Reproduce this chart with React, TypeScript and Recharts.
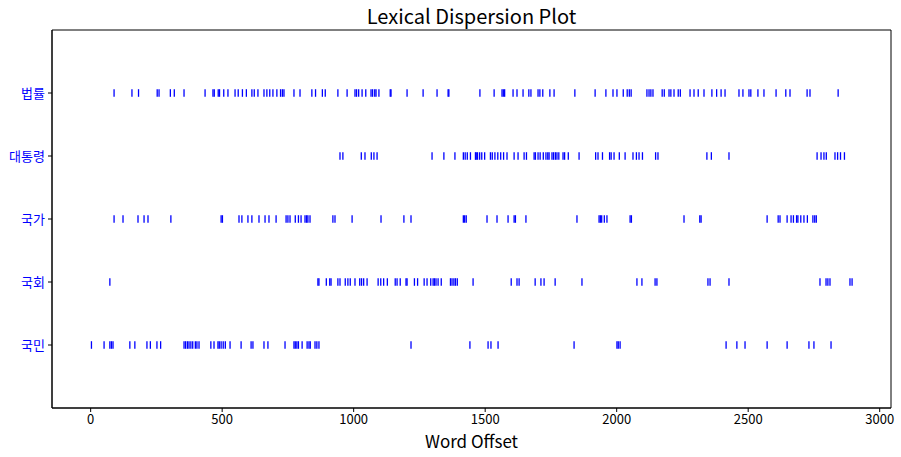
import React from 'react';
import { ScatterChart, Scatter, XAxis, YAxis, ReferenceArea } from 'recharts';

const words = ['국민', '국회', '국가', '대통령', '법률'];

const offsetsGukmin = [3, 51, 73, 79, 85, 149, 168, 214, 227, 252, 266, 355, 361, 368, 374, 381, 388, 398, 404, 412, 457, 469, 484, 489, 496, 504, 512, 530, 572, 610, 617, 659, 674, 739, 773, 778, 784, 790, 804, 823, 830, 835, 853, 860, 868, 1218, 1442, 1511, 1522, 1549, 1838, 2001, 2006, 2013, 2416, 2457, 2488, 2572, 2648, 2731, 2750, 2815];

const offsetsGukhoe = [73, 864, 868, 896, 909, 914, 940, 948, 968, 978, 987, 1005, 1023, 1030, 1038, 1051, 1093, 1103, 1114, 1128, 1158, 1165, 1177, 1199, 1203, 1231, 1243, 1268, 1279, 1293, 1302, 1307, 1313, 1321, 1333, 1368, 1374, 1381, 1387, 1394, 1454, 1599, 1621, 1629, 1690, 1712, 1724, 1766, 1868, 2077, 2096, 2146, 2153, 2347, 2355, 2427, 2773, 2796, 2803, 2811, 2887, 2895];

const offsetsGukga = [89, 123, 180, 203, 218, 305, 496, 501, 564, 575, 598, 613, 640, 663, 678, 705, 743, 750, 758, 778, 790, 800, 815, 821, 826, 834, 921, 929, 994, 1104, 1191, 1218, 1417, 1422, 1428, 1507, 1545, 1587, 1610, 1615, 1655, 1849, 1933, 1938, 1943, 1953, 1963, 2051, 2056, 2256, 2316, 2321, 2572, 2614, 2621, 2648, 2663, 2672, 2684, 2689, 2700, 2712, 2725, 2746, 2753, 2759];

const offsetsDaetongryeong = [948, 959, 1029, 1043, 1067, 1077, 1089, 1298, 1343, 1385, 1417, 1424, 1432, 1444, 1463, 1466, 1471, 1479, 1487, 1498, 1520, 1527, 1537, 1548, 1559, 1570, 1583, 1610, 1625, 1648, 1657, 1686, 1691, 1701, 1709, 1721, 1731, 1738, 1743, 1754, 1760, 1767, 1773, 1780, 1796, 1802, 1816, 1857, 1920, 1929, 1946, 1973, 1979, 1990, 2010, 2032, 2062, 2075, 2085, 2098, 2148, 2157, 2343, 2360, 2427, 2762, 2777, 2788, 2797, 2830, 2840, 2851, 2866];

const offsetsBeopryul = [89, 157, 182, 253, 260, 303, 318, 355, 435, 465, 470, 485, 490, 506, 522, 549, 561, 577, 592, 613, 622, 636, 659, 670, 681, 693, 708, 722, 729, 735, 773, 796, 841, 855, 881, 892, 940, 975, 1005, 1011, 1019, 1032, 1046, 1066, 1072, 1080, 1085, 1096, 1139, 1142, 1203, 1264, 1317, 1359, 1362, 1480, 1534, 1564, 1569, 1574, 1606, 1621, 1644, 1666, 1674, 1701, 1708, 1719, 1746, 1762, 1841, 1918, 1959, 1986, 2001, 2025, 2040, 2048, 2055, 2115, 2123, 2130, 2138, 2173, 2181, 2199, 2206, 2218, 2234, 2242, 2279, 2294, 2310, 2332, 2362, 2380, 2397, 2412, 2465, 2480, 2503, 2510, 2537, 2560, 2606, 2643, 2659, 2724, 2735, 2842];

const xTicks = [0, 500, 1000, 1500, 2000, 2500, 3000];
const yTicks = [0, 1, 2, 3, 4];
const xDomain = [-147, 3043];
const yDomain = [-1, 5];

const allOffsets = [offsetsGukmin, offsetsGukhoe, offsetsGukga, offsetsDaetongryeong, offsetsBeopryul];

const FONT = '"Noto Sans CJK KR", "Noto Sans", sans-serif';

const TickMark = (props: any) => {
  const { cx, cy } = props;
  if (cx == null || cy == null) return null;
  return <line x1={cx} x2={cx} y1={cy - 3.8} y2={cy + 3.8} stroke="#0000ff" strokeWidth={1.3} />;
};

const YTick = (props: any) => {
  const { x, y, payload } = props;
  return (
    <text x={x} y={y} dy={5} textAnchor="end" fill="#0000ff" fontSize={13} fontFamily={FONT}>
      {words[payload.value]}
    </text>
  );
};

export default function App() {
  return (
    <div style={{ position: 'absolute', left: 0, top: 0, width: 901, height: 457, background: '#fff' }}>
      <div
        style={{
          position: 'absolute',
          left: 52,
          width: 839,
          top: 3,
          textAlign: 'center',
          fontFamily: FONT,
          fontSize: 20,
          color: '#000',
          lineHeight: '26px',
        }}
      >
        Lexical Dispersion Plot
      </div>
      <ScatterChart width={901} height={457} margin={{ top: 30, right: 10, bottom: 0, left: 0 }}>
        <XAxis
          type="number"
          dataKey="x"
          domain={xDomain}
          ticks={xTicks}
          allowDataOverflow
          height={49}
          tickSize={4}
          tickMargin={3}
          axisLine={{ stroke: '#000' }}
          tickLine={{ stroke: '#000' }}
          tick={{ fill: '#000', fontSize: 13, fontFamily: FONT }}
          label={{ value: 'Word Offset', position: 'insideBottom', offset: 9, fill: '#000', fontSize: 17, fontFamily: FONT }}
        />
        <YAxis
          type="number"
          dataKey="y"
          domain={yDomain}
          ticks={yTicks}
          width={52}
          tickSize={4}
          tickMargin={3}
          axisLine={{ stroke: '#000' }}
          tickLine={{ stroke: '#000' }}
          tick={<YTick />}
        />
        <ReferenceArea
          x1={xDomain[0]}
          x2={xDomain[1]}
          y1={yDomain[0]}
          y2={yDomain[1]}
          fill="none"
          fillOpacity={0}
          stroke="#000"
          strokeWidth={1}
          strokeOpacity={1}
        />
        {allOffsets.map((offs, i) => (
          <Scatter
            key={words[i]}
            name={words[i]}
            data={offs.map((x) => ({ x, y: i }))}
            shape={<TickMark />}
            isAnimationActive={false}
          />
        ))}
      </ScatterChart>
    </div>
  );
}
